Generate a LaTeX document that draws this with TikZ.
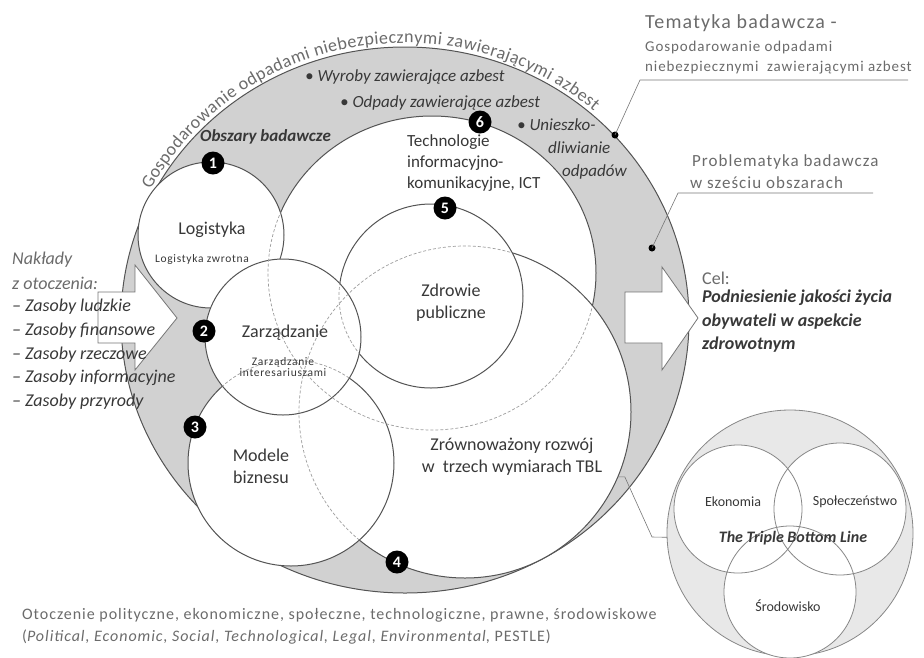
\documentclass[tikz,border=0pt]{standalone}
\usepackage{fontspec}
\setmainfont{Carlito}
\newfontfamily\widefont[LetterSpace=6]{Carlito}
\usetikzlibrary{decorations.text}

\definecolor{band}{gray}{0.82}
\definecolor{edge}{gray}{0.33}
\definecolor{hid}{gray}{0.62}
\definecolor{txt}{gray}{0.22}
\definecolor{soft}{gray}{0.42}
\definecolor{tblfill}{gray}{0.91}

\newcommand{\px}[2]{\fontsize{#1}{#2}\selectfont}

\begin{document}
\begin{tikzpicture}[x=1pt,y=1pt,
  ring/.style={fill=white,draw=edge,line width=1pt},
  hidden/.style={draw=hid,dash pattern=on 3pt off 2pt,line width=0.7pt},
  badge/.style={circle,fill=black,text=white,inner sep=0pt,minimum size=23pt,font=\px{16}{16}\bfseries},
  lbl/.style={text=txt,font=\px{18}{22},align=center,inner sep=0pt},
  smalllbl/.style={text=txt,font=\px{11.5}{11}\widefont,align=center,inner sep=0pt},
  bandtxt/.style={text=txt,font=\px{17}{20}\itshape,anchor=west,inner sep=0pt},
  lefttxt/.style={font=\px{18}{20}\itshape,anchor=west,inner sep=0pt},
  notetxt/.style={text=soft,font=\px{16}{20}\widefont,anchor=west,inner sep=0pt},
  leader/.style={draw=edge!80,line width=0.6pt},
  dot/.style={circle,fill=black,inner sep=0pt,minimum size=7pt},
  blockarrow/.style={fill=white,draw=edge!80,line width=0.8pt,line join=miter},
  tbllbl/.style={text=txt,font=\px{14}{14},inner sep=0pt}]

\useasboundingbox (0,0) rectangle (924,-657);

% centres of the research-area circles
\coordinate (ictc) at (432,-273);
\coordinate (zrowc) at (465,-412);
\coordinate (modc) at (291,-463);
\coordinate (zdrc) at (431,-296);
\coordinate (logc) at (211,-235);
\coordinate (zarc) at (283,-337);

% grey band: the research theme
\filldraw[fill=band,draw=edge,line width=1pt] (405,-320) ellipse [x radius=284,y radius=273];

% curved title along the band
\path[decorate,decoration={text along path,text align={fit to path},
  text={|\px{18}{18}\color{soft}|Gospodarowanie odpadami niebezpiecznymi zawierającymi azbest}}]
  (405,-320) ++(152:288 and 277) arc[start angle=152,end angle=49,x radius=288,y radius=277];

% research areas, stacked bottom to top
\path[ring] (ictc) ellipse [x radius=164,y radius=157];
\path[ring] (zrowc) circle [radius=166];
\path[ring] (modc) circle [radius=103];
\path[ring] (zdrc) circle [radius=92];
\path[ring] (logc) circle [radius=73];
\path[ring] (zarc) circle [radius=78];

% hidden outlines, shown dashed where another area covers them
\begin{scope}
  \clip (zrowc) circle [radius=166] (modc) circle [radius=103] (zdrc) circle [radius=92]
        (logc) circle [radius=73] (zarc) circle [radius=78];
  \path[hidden] (ictc) ellipse [x radius=164,y radius=157];
\end{scope}
\begin{scope}
  \clip (modc) circle [radius=103] (zdrc) circle [radius=92] (logc) circle [radius=73]
        (zarc) circle [radius=78];
  \path[hidden] (zrowc) circle [radius=166];
\end{scope}
\begin{scope}
  \clip (zdrc) circle [radius=92] (logc) circle [radius=73] (zarc) circle [radius=78];
  \path[hidden] (modc) circle [radius=103];
\end{scope}
\begin{scope}
  \clip (zarc) circle [radius=78];
  \path[hidden] (zdrc) circle [radius=92];
\end{scope}

% inputs and goal arrows
\draw[blockarrow] (98,-292) -- (135,-292) -- (135,-265) -- (177,-318) -- (135,-370)
  -- (135,-343) -- (98,-343) -- cycle;
\draw[blockarrow] (625,-292) -- (662,-292) -- (662,-267) -- (698,-318) -- (662,-370)
  -- (662,-343) -- (625,-343) -- cycle;

% area labels
\node[lbl] (logt) at (212,-230) {Logistyka};
\node[smalllbl] (logs) at (202,-259) {Logistyka zwrotna};
\node[lbl] (zart) at (285,-333) {Zarządzanie};
\node[smalllbl] (zars) at (283,-367) {Zarządzanie\\interesariuszami};
\node[lbl] (zdrt) at (451,-303) {Zdrowie\\publiczne};
\node[lbl] (modt) at (261,-466) {Modele\\biznesu};
\node[lbl] (zrowt) at (512,-457) {Zrównoważony rozwój\\w\ \ trzech wymiarach TBL};
\node[text=txt,font=\px{17}{21},align=left,anchor=north west,inner sep=0pt] (ictt)
  at (407,-134) {Technologie\\informacyjno-\\komunikacyjne, ICT};

% band texts
\node[text=txt,font=\px{17}{20}\bfseries\itshape,anchor=west,inner sep=0pt] (obsz)
  at (200,-137) {Obszary badawcze};
\node[bandtxt] (wyr) at (305,-77) {• Wyroby zawierające azbest};
\node[bandtxt] (odp) at (340,-103) {• Odpady zawierające azbest};
\node[bandtxt] (un1) at (517,-125) {• Unieszko-};
\node[bandtxt] (un2) at (548,-148) {dliwianie};
\node[bandtxt] (un3) at (562,-172) {odpadów};

% numbered markers
\node[badge] (b1) at (213,-163) {1};
\node[badge] (b2) at (204,-331) {2};
\node[badge] (b3) at (195,-427) {3};
\node[badge] (b4) at (397,-562) {4};
\node[badge] (b5) at (445,-208) {5};
\node[badge] (b6) at (480,-122) {6};

% inputs from the environment
\node[lefttxt,text=soft] (in0) at (12,-260) {Nakłady};
\node[lefttxt,text=soft] (in1) at (12,-283) {z otoczenia:};
\node[lefttxt,text=txt] (in2) at (12,-307) {– Zasoby ludzkie};
\node[lefttxt,text=txt] (in3) at (12,-331) {– Zasoby finansowe};
\node[lefttxt,text=txt] (in4) at (12,-355) {– Zasoby rzeczowe};
\node[lefttxt,text=txt] (in5) at (12,-378) {– Zasoby informacyjne};
\node[lefttxt,text=txt] (in6) at (12,-402) {– Zasoby przyrody};

% goal
\node[text=soft,font=\px{18}{20},anchor=west,inner sep=0pt] (cel0) at (702,-278) {Cel:};
\node[text=txt,font=\px{18}{23.5}\bfseries\itshape,anchor=north west,align=left,inner sep=0pt]
  (cel1) at (702,-290) {Podniesienie jakości życia\\obywateli w aspekcie\\zdrowotnym};

% callouts on the right
\node[notetxt,font=\px{20}{20}\widefont] (tem0) at (645,-23) {Tematyka badawcza -};
\node[notetxt,font=\px{15}{20}\widefont] (tem1) at (645,-47) {Gospodarowanie odpadami};
\node[notetxt,font=\px{15}{20}\widefont] (tem2) at (645,-68) {niebezpiecznymi\ \ zawierającymi azbest};
\coordinate (temk) at (640,-80);
\coordinate (teme) at (908,-80);
\node[dot] (temd) at (615,-135) {};
\draw[leader] (temd.center) -- (temk) -- (teme);

\node[notetxt,font=\px{17}{20}\widefont] (pro0) at (692,-162) {Problematyka badawcza};
\node[notetxt,font=\px{17}{20}\widefont] (pro1) at (690,-183) {w sześciu obszarach};
\coordinate (prok) at (678,-193);
\coordinate (proe) at (873,-193);
\node[dot] (prod) at (652,-248) {};
\draw[leader] (prod.center) -- (prok) -- (proe);

% Triple Bottom Line
\node[circle,fill=tblfill,draw=edge!70,line width=0.8pt,minimum size=246pt,inner sep=0pt,outer sep=0pt]
  (tbl) at (790,-533) {};
\fill[white] (738,-509) circle [radius=64] (840,-509) circle [radius=66] (790,-592) circle [radius=66];
\draw[edge!70,line width=0.8pt] (738,-509) circle [radius=64] (840,-509) circle [radius=66]
  (790,-592) circle [radius=66];
\node[tbllbl] (eko) at (733,-502) {Ekonomia};
\node[tbllbl] (spo) at (855,-502) {Społeczeństwo};
\node[tbllbl] (sro) at (788,-606) {Środowisko};
\node[text=txt,font=\px{16}{16}\bfseries\itshape,inner sep=0pt] (tblt) at (793,-538) {The Triple Bottom Line};

% link from sustainable development to the TBL
\coordinate (zrowhook) at ([shift={(-23:166)}]zrowc);
\coordinate (tblbend) at (652,-537);
\draw[leader] (zrowhook) -- ++(7,0) -- (tblbend) -- (tbl.182);

% environment
\node[text=soft,font=\px{16}{20}\widefont,anchor=west,inner sep=0pt] (env0) at (22,-615)
  {Otoczenie polityczne, ekonomiczne, społeczne, technologiczne, prawne, środowiskowe};
\node[text=soft,font=\px{16}{20}\widefont,anchor=west,inner sep=0pt] (env1) at (22,-637)
  {(\textit{Political, Economic, Social, Technological, Legal, Environmental}, PESTLE)};
\end{tikzpicture}
\end{document}
